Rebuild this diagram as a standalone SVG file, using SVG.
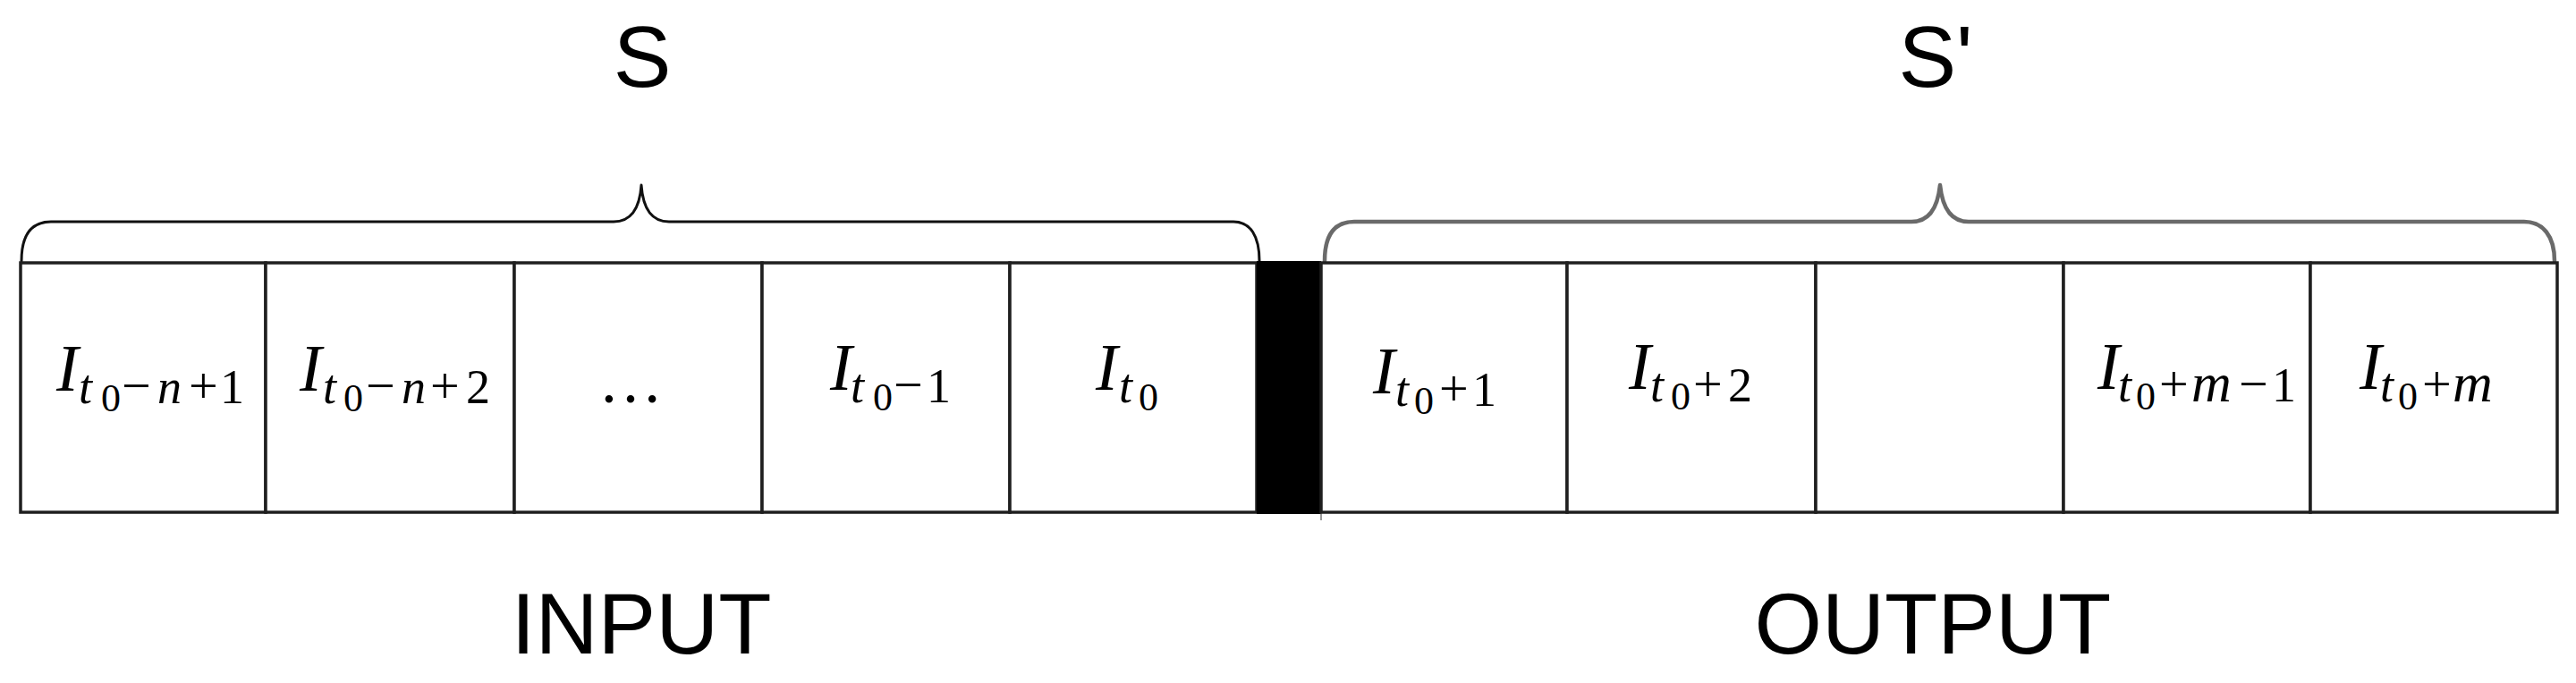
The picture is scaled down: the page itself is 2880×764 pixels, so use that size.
<svg xmlns="http://www.w3.org/2000/svg" width="2880" height="764" viewBox="0 0 2880 764">
<style>
.cell{fill:#fff;stroke:#1f1f1f;stroke-width:3.5}
.bar{fill:#000}
.brace{fill:none;stroke-linecap:round;stroke-linejoin:round}
.b1{stroke:#111;stroke-width:3}
.b2{stroke:#6a6a6a;stroke-width:4.5}
.title{font-family:"Liberation Sans",Arial,sans-serif;font-size:97px;fill:#000;text-anchor:middle}
.math{font-family:"Liberation Serif","DejaVu Serif",serif;fill:#000}
.I{font-size:74px;font-style:italic}
.s{font-size:54px}
.it{font-style:italic}
.ss{font-size:44px}
.op{font-size:58px}
.mm{font-size:62px;font-style:italic}
</style>
<rect width="2880" height="764" fill="#fff"/>
<g id="brace-S">
<path class="brace b1" d="M24,292 C24,264 34,248 57,248 L686,248 C703,248 715,236 717,207 C719,236 731,248 748,248 L1379,248 C1398,248 1408,264 1408,292"/>
</g>
<g id="brace-S-prime">
<path class="brace b2" d="M1481,292 C1481,264 1491,248 1514,248 L2137,248 C2154,248 2166,236 2169,207 C2172,236 2184,248 2201,248 L2822,248 C2843,248 2856,264 2856,292"/>
</g>
<g id="label-S"><text class="title" x="718" y="97">S</text></g>
<g id="label-S-prime"><text class="title" x="2164" y="97">S'</text></g>
<g id="label-input"><text class="title" x="717" y="731">INPUT</text></g>
<g id="label-output"><text class="title" x="2161" y="731">OUTPUT</text></g>

<g id="cell-1">
<rect class="cell" x="23" y="294" width="274" height="279"/>
<text class="math"><tspan class="I" x="63" y="437">I</tspan><tspan class="s it" x="88" y="451">t</tspan><tspan class="ss" x="113" y="460">0</tspan><tspan class="op" x="136" y="451">−</tspan><tspan class="s it" x="176" y="451">n</tspan><tspan class="op" x="211" y="451">+</tspan><tspan class="s" x="246" y="451">1</tspan></text>
</g>
<g id="cell-2">
<rect class="cell" x="297" y="294" width="278" height="279"/>
<text class="math"><tspan class="I" x="335" y="437">I</tspan><tspan class="s it" x="361" y="451">t</tspan><tspan class="ss" x="384" y="460">0</tspan><tspan class="op" x="409" y="451">−</tspan><tspan class="s it" x="449" y="451">n</tspan><tspan class="op" x="481" y="451">+</tspan><tspan class="s" x="521" y="451">2</tspan></text>
</g>
<g id="cell-3">
<rect class="cell" x="575" y="294" width="277" height="279"/>
<text class="math" x="705" y="450" font-size="72" text-anchor="middle">…</text>
</g>
<g id="cell-4">
<rect class="cell" x="852" y="294" width="277" height="279"/>
<text class="math"><tspan class="I" x="928" y="436">I</tspan><tspan class="s it" x="951" y="450">t</tspan><tspan class="ss" x="976" y="459">0</tspan><tspan class="op" x="999" y="450">−</tspan><tspan class="s" x="1036" y="450">1</tspan></text>
</g>
<g id="cell-5">
<rect class="cell" x="1129" y="294" width="276" height="279"/>
<text class="math"><tspan class="I" x="1225" y="436">I</tspan><tspan class="s it" x="1251" y="450">t</tspan><tspan class="ss" x="1273" y="459">0</tspan></text>
</g>
<g id="separator">
<rect class="bar" x="1405" y="292" width="72" height="283"/>
<line x1="1477" y1="573" x2="1477" y2="582" stroke="#777" stroke-width="1.5"/>
</g>
<g id="cell-6">
<rect class="cell" x="1477" y="294" width="275" height="279"/>
<text class="math"><tspan class="I" x="1535" y="440">I</tspan><tspan class="s it" x="1560" y="454">t</tspan><tspan class="ss" x="1581" y="463">0</tspan><tspan class="op" x="1609" y="454">+</tspan><tspan class="s" x="1646" y="454">1</tspan></text>
</g>
<g id="cell-7">
<rect class="cell" x="1752" y="294" width="278" height="279"/>
<text class="math"><tspan class="I" x="1821" y="435">I</tspan><tspan class="s it" x="1845" y="449">t</tspan><tspan class="ss" x="1868" y="458">0</tspan><tspan class="op" x="1893" y="449">+</tspan><tspan class="s" x="1932" y="449">2</tspan></text>
</g>
<g id="cell-8">
<rect class="cell" x="2030" y="294" width="277" height="279"/>
</g>
<g id="cell-9">
<rect class="cell" x="2307" y="294" width="276" height="279"/>
<text class="math"><tspan class="I" x="2345" y="435">I</tspan><tspan class="s it" x="2368" y="449">t</tspan><tspan class="ss" x="2388" y="458">0</tspan><tspan class="op" x="2414" y="449">+</tspan><tspan class="mm" x="2450" y="449">m</tspan><tspan class="op" x="2503" y="449">−</tspan><tspan class="s" x="2540" y="449">1</tspan></text>
</g>
<g id="cell-10">
<rect class="cell" x="2583" y="294" width="276" height="279"/>
<text class="math"><tspan class="I" x="2638" y="435">I</tspan><tspan class="s it" x="2661" y="449">t</tspan><tspan class="ss" x="2681" y="458">0</tspan><tspan class="op" x="2708" y="449">+</tspan><tspan class="mm" x="2742" y="449">m</tspan></text>
</g>
<g id="connectors"></g>
</svg>
